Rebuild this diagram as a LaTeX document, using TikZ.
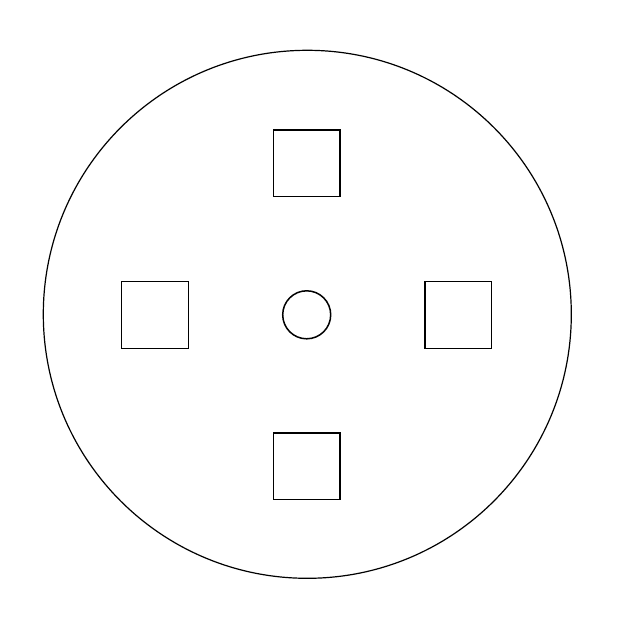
\documentclass[tikz,border=0pt]{standalone}
\begin{document}
\begin{tikzpicture}[x=1pt,y=-1pt]
			\useasboundingbox (0,0) rectangle (624,631);
			\draw[line width=1.2pt] (307.3,314.3) circle[radius=264];
			\draw[line width=1.5pt] (273.3,130) rectangle (340,196.7);
			\draw[line width=1.5pt] (121.7,281.7) rectangle (188.3,348.3);
			\draw[line width=1.5pt] (425,281.7) rectangle (491.7,348.3);
			\draw[line width=1.5pt] (273.3,433) rectangle (340,499.5);
			\draw[line width=1.5pt] (306.7,314.8) circle[radius=24];
		\end{tikzpicture}
\end{document}
